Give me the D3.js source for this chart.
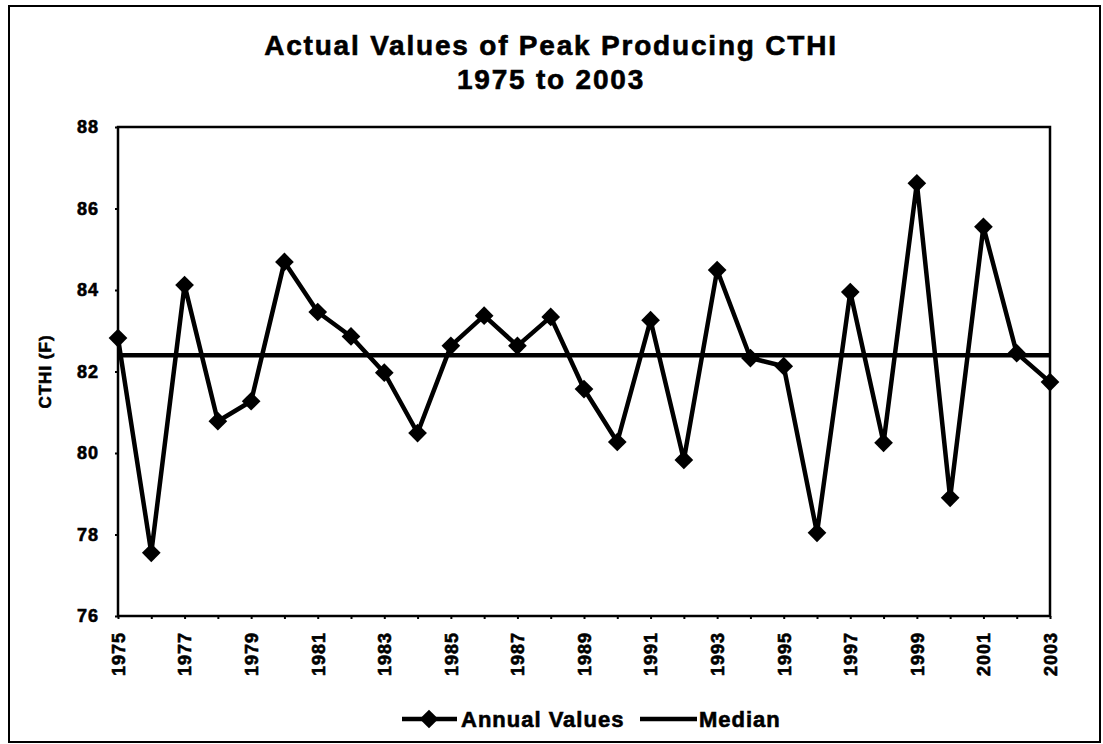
<!DOCTYPE html>
<html>
<head>
  <meta charset="utf-8">
  <title>Actual Values of Peak Producing CTHI</title>
  <script src="https://d3js.org/d3.v7.min.js"></script>
  <style>
    body { margin: 0; background: #fff; }
    text { font-family: "Liberation Sans", Arial, sans-serif; font-weight: bold; fill: #000;
           stroke: #000; stroke-width: 0.6px; }
  </style>
</head>
<body>
  <svg width="1103" height="744"></svg>

  <script>
    const years = d3.range(1975, 2004);
    const annualValues = [82.82, 77.55, 84.12, 80.78, 81.27, 84.69, 83.46, 82.86, 81.97, 80.49,
                          82.63, 83.37, 82.63, 83.34, 81.57, 80.27, 83.26, 79.83, 84.49, 82.33,
                          82.13, 78.04, 83.95, 80.25, 86.62, 78.90, 85.55, 82.45, 81.74];
    const median = 82.4;
    const yTicks = [76, 78, 80, 82, 84, 86, 88];
    const xTickYears = d3.range(1975, 2004, 2);

    const svg = d3.select("svg");
    const plotLeft = 118, plotRight = 1050, plotTop = 127, plotBottom = 616;

    const x = d3.scaleLinear().domain([1975, 2003]).range([plotLeft, plotRight]);
    const y = d3.scaleLinear().domain([76, 88]).range([plotBottom, plotTop]);

    // outer frame
    svg.append("rect").attr("x", 9).attr("y", 6).attr("width", 1091).attr("height", 736)
      .attr("fill", "none").attr("stroke", "#000").attr("stroke-width", 2);

    // title
    svg.append("text").attr("x", 551).attr("y", 55).attr("text-anchor", "middle")
      .attr("font-size", 28).attr("letter-spacing", 1.8).text("Actual Values of Peak Producing CTHI");
    svg.append("text").attr("x", 551).attr("y", 89).attr("text-anchor", "middle")
      .attr("font-size", 28).attr("letter-spacing", 1.8).text("1975 to 2003");

    // y axis
    const yAxis = svg.append("g").attr("transform", `translate(${plotLeft},0)`)
      .call(d3.axisLeft(y).tickValues(yTicks).tickSize(3).tickPadding(16));
    yAxis.select(".domain").remove();
    yAxis.selectAll("text").attr("font-size", 18).attr("font-family", null).attr("letter-spacing", 1);
    yAxis.selectAll("line").attr("stroke-width", 2);

    // x axis
    const xAxis = svg.append("g").attr("transform", `translate(0,${plotBottom})`)
      .call(d3.axisBottom(x).tickValues(years).tickSize(3).tickFormat(d => xTickYears.includes(d) ? d : ""));
    xAxis.select(".domain").remove();
    xAxis.selectAll("line").attr("stroke-width", 2);
    xAxis.selectAll("text")
      .attr("font-size", 18).attr("font-family", null).attr("letter-spacing", 1)
      .attr("text-anchor", "end")
      .attr("transform", "rotate(-90)")
      .attr("x", -16).attr("y", 0).attr("dy", "0.35em");

    // plot frame
    svg.append("rect").attr("x", plotLeft).attr("y", plotTop)
      .attr("width", plotRight - plotLeft).attr("height", plotBottom - plotTop)
      .attr("fill", "none").attr("stroke", "#000").attr("stroke-width", 2.5);

    // y label
    svg.append("text").attr("transform", `translate(51,${(plotTop + plotBottom) / 2}) rotate(-90)`)
      .attr("text-anchor", "middle").attr("font-size", 17).attr("letter-spacing", 1).text("CTHI (F)");

    // median line
    svg.append("line").attr("x1", x(1975)).attr("x2", x(2003))
      .attr("y1", y(median)).attr("y2", y(median))
      .attr("stroke", "#000").attr("stroke-width", 4.5);

    // annual values
    const line = d3.line().x((d, i) => x(years[i])).y(d => y(d));
    svg.append("path").datum(annualValues).attr("d", line)
      .attr("fill", "none").attr("stroke", "#000").attr("stroke-width", 4.5).attr("stroke-linejoin", "round");

    const diamond = d3.symbol().type(d3.symbolSquare).size(175);
    svg.append("g").selectAll("path").data(annualValues).join("path")
      .attr("d", diamond)
      .attr("transform", (d, i) => `translate(${x(years[i])},${y(d)}) rotate(45)`)
      .attr("fill", "#000");

    // legend
    const lg = svg.append("g");
    const ly = 719;
    lg.append("line").attr("x1", 402).attr("x2", 457).attr("y1", ly).attr("y2", ly)
      .attr("stroke", "#000").attr("stroke-width", 4.5);
    lg.append("path").attr("d", diamond).attr("transform", `translate(429,${ly}) rotate(45)`).attr("fill", "#000");
    lg.append("text").attr("x", 461).attr("y", ly + 8).attr("font-size", 22).attr("letter-spacing", 1).text("Annual Values");
    lg.append("line").attr("x1", 640).attr("x2", 697).attr("y1", ly).attr("y2", ly)
      .attr("stroke", "#000").attr("stroke-width", 4.5);
    lg.append("text").attr("x", 699).attr("y", ly + 8).attr("font-size", 22).attr("letter-spacing", 1).text("Median");
  </script>
</body>
</html>
